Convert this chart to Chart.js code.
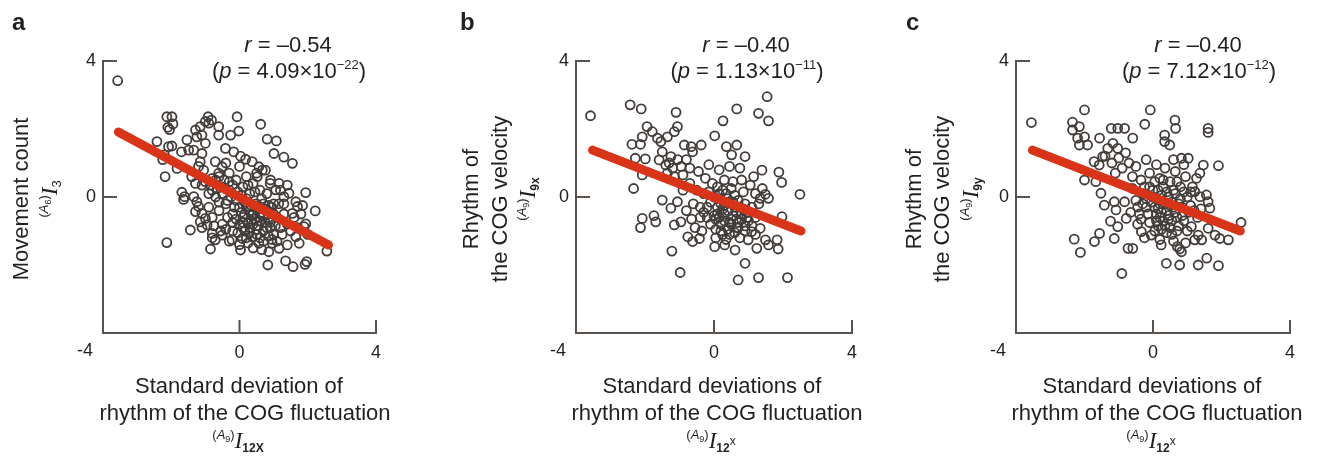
<!DOCTYPE html>
<html>
<head>
<title>COG rhythm correlations</title>
<script src="https://cdn.jsdelivr.net/npm/chart.js"></script>
<style>
  body { margin: 0; background: #fff; width: 1325px; height: 456px; overflow: hidden; position: relative; }
  canvas { position: absolute; top: 0; }
</style>
</head>
<body>
<canvas id="chartA" width="440" height="456" style="left:0px"></canvas>
<canvas id="chartB" width="440" height="456" style="left:440px"></canvas>
<canvas id="chartC" width="445" height="456" style="left:880px"></canvas>
<script>
// tick values shared by both axes of all three panels
const axisTicks = [-4, 0, 4];
const panelLetters = ['a', 'b', 'c'];
const rValues = ['\u20130.54', '\u20130.40', '\u20130.40'];
const pMantissa = ['4.09', '1.13', '7.12'];
const pExponent = ['\u221222', '\u221211', '\u221212'];

// regression line end points
const fitA = [[-3.55, 1.91], [2.61, -1.41]];
const fitB = [[-3.52, 1.38], [2.52, -1.00]];
const fitC = [[-3.52, 1.38], [2.55, -1.00]];

// panel a: I12X vs I3
const pointsA = [
  [-3.57,3.42],[-2.13,2.36],[-1.98,2.36],[-2.1,2.05],[-2.05,1.98],[-1.95,2.15],
  [-2.42,1.63],[-2.08,1.48],[-1.98,1.5],[-2.2,1.24],[-2.25,1.1],[-2.18,0.6],[-1.83,0.84],[-1.7,1.33],
  [-1.54,1.68],[-1.49,1.38],[-1.34,1.38],[-1.29,1.97],[-1.15,2.07],[-1.25,1.77],[-1.1,1.82],
  [-1.0,2.22],[-0.92,2.36],[-0.82,2.26],[-0.9,2.17],[-0.61,2.07],[-0.61,1.82],[-0.26,1.82],[-0.02,1.94],
  [-0.07,2.36],[0.62,2.14],[0.81,1.7],[1.08,1.65],
  [-0.41,1.43],[-0.17,1.33],[0.03,1.2],[0.18,1.11],[0.37,1.04],[0.57,0.89],[0.67,0.79],
  [1.01,1.28],[1.3,1.17],[1.55,0.99],
  [-1.0,1.58],[-1.1,1.28],[-1.15,1.04],[-1.05,0.79],[-0.71,1.04],[-0.51,0.89],[-0.61,0.7],[-0.8,0.55],
  [-1.29,0.4],[-1.1,0.35],[-1.69,0.14],[-1.61,0.01],[-1.64,-0.07],
  [-1.34,0.01],[-1.25,-0.14],[-1.2,-0.28],[-1.29,-0.43],[-1.1,-0.48],[-1.0,-0.63],[-1.15,-0.73],[-0.95,-0.82],
  [-1.44,-0.97],[-0.8,-1.07],[-0.51,-1.12],[-0.71,-1.26],[-2.13,-1.34],[-0.85,-1.53],[0.03,-1.56],
  [-0.22,-1.26],[0.08,-1.22],[0.37,-1.17],[0.57,-1.36],[0.86,-1.61],[0.83,-2.0],[0.96,-1.36],[1.16,-1.51],[1.4,-1.41],
  [1.35,-1.88],[1.57,-2.05],[1.92,-1.98],[1.97,-1.9],[1.65,-1.17],[1.75,-1.36],[2.56,-1.59],[2.22,-0.41],
  [1.94,-0.79],[1.89,-0.87],[1.94,0.13],
  [1.65,-0.14],[1.7,-0.28],[1.55,-0.48],[1.4,0.35],[1.45,0.11],[1.3,0.01],[1.16,0.4],[1.06,0.21],[0.91,0.5],
  [0.76,0.79],[0.52,0.6],
  [0.2,-0.3],[0.4,-0.5],[0.1,-0.6],[0.5,-0.2],[0.3,0.1],[-0.1,-0.1],[-0.3,0.2],[-0.5,0.3],[0.6,-0.7],[0.8,-0.4],
  [0.9,-0.9],[0.7,-1.0],[0.3,-0.9],[0.0,-0.8],[-0.2,-0.5],[-0.4,-0.2],[-0.6,-0.4],[-0.7,0.0],[-0.9,0.1],[0.1,0.3],
  [0.4,0.4],[0.6,0.2],[0.2,0.6],[-0.1,0.5],[-0.3,0.7],[0.0,0.9],[1.0,-0.2],[1.1,-0.6],[1.2,-0.9],[1.0,-1.1],
  [0.5,-1.1],[0.2,-1.2],[-0.2,-1.0],[-0.5,-0.8],[-0.8,-0.6],[0.8,0.1],[0.9,0.4],[0.5,0.7],[-0.4,1.0],[-0.6,0.6],
  [0.3,-0.4],[0.45,-0.65],[0.25,-0.75],[0.65,-0.45],[0.15,-0.15],[0.35,-0.25],[0.55,-0.85],[0.75,-0.75],[0.05,-0.45],
  [-0.15,-0.3],[-0.25,0.0],[0.7,-0.2],[1.3,-0.5],[1.4,-0.8],[1.5,-1.0],[1.2,0.2],[1.3,-0.2],[-1.2,0.9],[-1.4,0.6],
  [-0.9,-0.3],[-1.1,-0.9],[-0.8,-1.2],[-0.3,-1.3],[0.0,-1.4],[0.4,-1.5],[0.7,-1.3],[1.1,-1.3],[1.6,-0.6],[1.8,-0.5],
  [1.7,-0.9],[2.0,-1.1],[1.85,-0.25],[-0.45,0.5],[-0.65,0.25],[-0.85,0.35],[-0.35,-0.6],[-0.55,-1.0],[0.15,-1.0],
  [0.35,-0.7],[0.6,-0.5],[0.85,-0.6],[0.95,-0.3],[0.45,0.15],[-0.05,0.15],[-0.2,0.35],[0.25,0.35],[0.85,-1.15],
  [1.25,-1.1],[0.65,-1.55],[-0.1,-0.65],[-0.75,-0.85],
  [0.1,-0.9],[0.3,-1.05],[0.5,-0.95],[0.7,-0.55],[0.9,-0.75],[1.05,-0.85],[0.15,-0.5],[0.35,-0.55],[0.55,-0.35],
  [0.75,-0.35],[0.2,-0.05],[0.0,-0.3],[-0.2,-0.75],[-0.4,-0.95],[-0.6,-0.15],[-0.3,0.45],[-0.5,0.1],[-0.8,0.2],
  [-1.0,0.45],[-0.7,0.5],[0.6,-1.2],[0.8,-0.9],[1.0,-0.5],[1.15,-0.2],[0.45,-0.3],[0.65,-0.05],[0.05,0.05],
  [-0.05,-1.05],[0.25,-1.35],[0.95,-1.25],[-0.35,-0.1],[0.1,-0.75],[0.4,-0.8],[0.6,-0.6],[0.85,-0.25]
];

// panel b: I12x vs I9x
const pointsB = [
  [-3.58,2.39],[-2.43,2.71],[-2.11,2.59],[-1.1,2.49],[1.54,2.95],[0.66,2.59],[1.29,2.46],[1.58,2.24],[0.26,2.24],[0.02,1.8],
  [-1.94,2.07],[-1.79,1.92],[-2.08,1.77],[-1.06,2.07],[-1.15,1.92],[-1.35,1.77],[-1.54,1.63],[-1.64,1.73],
  [-2.38,1.55],[-2.13,1.55],[-0.86,1.53],[-0.66,1.48],[-0.37,1.53],[-0.62,1.33],
  [0.36,1.48],[0.66,1.53],[0.51,1.24],[0.9,1.19],
  [-2.28,1.14],[-1.99,1.12],[-2.08,0.65],[-2.33,0.25],
  [-1.5,1.33],[-1.25,1.19],[-1.4,0.94],[-1.59,1.09],
  [1.39,0.79],[1.88,0.73],[1.96,0.43],[2.49,0.08],[1.49,0.08],[1.58,-0.04],[1.34,-0.04],[1.97,-0.58],
  [-1.74,-0.55],[-2.08,-0.63],[-2.13,-0.9],[-1.69,-0.73],
  [-1.5,-0.09],[-1.25,-0.33],[-1.06,-0.14],[-1.15,-0.82],[-0.96,-0.73],
  [-0.76,-1.17],[-0.62,-1.31],[-0.42,-1.22],[-1.22,-1.59],[-0.98,-2.22],
  [0.02,-1.46],[0.31,-1.41],[0.61,-1.56],[0.9,-1.95],[0.7,-2.44],[1.29,-2.37],[2.13,-2.37],
  [1.24,-1.51],[1.49,-1.26],[1.58,-1.41],[1.83,-1.26],[1.86,-1.53],[1.09,-1.02],[1.34,-0.92],[0.99,-1.26],
  [-1.3,1.0],[-1.2,0.85],[-1.05,1.1],[-0.95,0.9],[-1.35,0.7],[-1.15,0.6],[-0.9,0.65],[-0.8,1.1],[-0.7,0.85],
  [0.0,0.0],[0.2,-0.2],[0.4,-0.4],[0.6,-0.3],[0.8,-0.5],[1.0,-0.7],[0.1,-0.5],[0.3,-0.7],[0.5,-0.8],[0.7,-0.9],
  [0.9,-0.2],[-0.2,-0.3],[-0.4,-0.6],[-0.1,-0.8],[0.2,-1.0],[0.45,-1.1],[0.75,-1.2],[-0.3,0.1],[-0.5,0.2],[0.1,0.3],
  [0.35,0.1],[0.6,0.05],[0.85,0.15],[1.1,-0.3],[1.2,-0.6],[-0.6,-0.2],[-0.8,-0.4],[-0.55,-0.9],[0.05,-1.2],[0.55,-0.55],
  [0.25,-0.35],[0.15,0.1],[-0.05,0.4],[0.3,0.5],[0.55,0.45],[0.8,0.5],[1.05,0.35],[-0.25,0.55],[-0.45,0.75],[-0.15,0.95],
  [0.15,0.8],[0.45,0.9],[0.75,0.85],[1.15,0.6],[-0.35,-1.0],[0.9,-1.0],[1.2,-1.1],[0.35,-1.25],[-0.7,0.4],[-0.9,0.2],
  [0.65,-0.65],[0.95,-0.45],[0.05,-0.65],[-0.3,-0.45],[0.4,-0.05],[0.7,-0.1],[1.3,-0.2],[1.4,0.25],[1.2,0.1],[-0.65,-0.65],
  [0.1,-0.3],[0.3,-0.5],[0.5,-0.65],[0.7,-0.75],[0.9,-0.85],[0.2,-0.8],[0.4,-0.95],[0.6,-1.05],[0.8,-0.65],[1.0,-0.45],
  [0.0,-0.55],[-0.2,-0.6],[0.35,-0.15],[0.55,-0.15],[0.75,-0.3],[0.15,-0.6],[0.45,-0.75],[0.65,-0.45],[0.85,-0.35],
  [-0.1,-0.15],[0.05,-0.95],[0.25,-1.1],[0.65,-0.9],[0.95,-0.6],[1.1,-0.85],[-0.15,0.15],[0.25,0.2],[0.5,0.25],
  [-0.4,-0.3],[0.3,-0.25]
];

// panel c: I12x vs I9y
const pointsC = [
  [-3.55,2.19],[-2.0,2.56],[-0.08,2.56],[0.64,2.26],[0.66,2.02],[-0.24,2.14],[1.61,2.02],[1.61,1.9],
  [-2.35,2.2],[-2.15,2.07],[-2.35,1.97],[-2.2,1.73],[-2.0,1.77],[-1.91,1.53],[-2.15,1.53],
  [-1.56,1.73],[-1.22,2.02],[-1.03,2.02],[-0.83,2.02],[-0.59,1.73],[-1.17,1.58],[-1.03,1.43],[-1.32,1.43],
  [0.34,1.82],[0.49,1.53],[0.34,1.63],[0.83,1.14],[1.03,1.14],[1.91,0.92],[1.47,0.94],[1.37,0.7],[1.27,0.55],
  [-2.0,0.5],[-1.67,0.45],[-1.52,0.11],[-1.42,-0.24],[-1.47,1.19],[-1.72,1.04],[-1.57,0.94],
  [-1.13,-0.14],[-0.83,-0.14],[-1.08,-0.38],[-1.24,-0.71],[-1.03,-0.87],[-1.13,-1.22],
  [-1.56,-1.07],[-1.71,-1.31],[-2.3,-1.24],[-2.12,-1.63],[-0.78,-0.63],[-0.73,-1.51],[-0.59,-1.51],[-0.91,-2.25],
  [-0.34,-1.02],[-0.05,-1.12],[0.24,-1.41],[0.78,-1.53],[0.83,-1.61],[0.71,-1.46],
  [0.39,-1.95],[0.78,-2.0],[1.32,-2.0],[1.91,-2.02],[1.57,-1.8],
  [1.22,-1.26],[1.42,-1.26],[1.95,-1.22],[2.2,-1.26],[1.81,-1.12],[2.57,-0.75],
  [1.56,0.06],[1.61,-0.14],[1.66,-0.33],[1.22,0.16],[1.37,0.01],[1.61,-0.92],[1.32,-1.12],[1.12,-0.87],
  [-1.4,1.2],[-1.2,1.0],[-1.0,1.15],[-0.8,1.3],[-0.7,1.0],[-0.9,0.85],[-1.1,0.7],[-0.6,0.6],[-0.5,0.9],
  [0.0,0.0],[0.2,-0.2],[0.4,-0.4],[-0.2,-0.3],[0.1,-0.5],[0.3,-0.7],[0.5,-0.9],[-0.3,0.1],[-0.1,0.3],[0.15,0.2],
  [0.45,0.0],[0.6,-0.3],[0.7,-0.6],[-0.4,-0.5],[-0.1,-0.75],[0.25,-0.95],[0.55,-1.1],[0.9,-0.7],[0.85,-0.3],[1.0,0.0],
  [0.8,0.3],[0.5,0.45],[0.2,0.55],[-0.1,0.7],[-0.35,0.5],[0.35,0.85],[0.65,0.75],[0.95,0.6],[1.15,0.3],[1.2,-0.4],
  [1.0,-1.0],[0.05,-1.0],[-0.25,-1.2],[0.35,-0.2],[0.65,0.1],[-0.5,-0.1],[-0.6,0.25],[0.1,0.95],[-0.2,1.1],[0.6,1.1],
  [0.9,0.95],[0.75,-0.85],[0.45,-0.65],[0.15,-0.35],[-0.05,-0.15],[0.3,0.3],[0.55,-0.15],[0.8,-0.05],[1.3,-0.6],
  [1.4,-0.35],[-0.45,-0.8],[-0.65,-0.45],[0.95,-1.35],[0.6,-1.3],[0.2,-1.25],[1.1,-0.25],
  [0.05,-0.3],[0.25,-0.45],[0.45,-0.55],[0.65,-0.45],[-0.15,-0.5],[0.1,-0.7],[0.35,-0.85],[0.55,-0.7],[-0.3,-0.2],
  [0.0,0.2],[0.25,0.05],[0.5,-0.25],[0.75,-0.2],[0.4,0.15],[-0.2,-0.05],[0.15,-0.85],[0.4,-1.05],[0.7,-1.0],
  [0.85,-0.55],[1.05,-0.45],[-0.35,-0.65],[0.2,-0.6],[0.6,0.2],[0.3,0.5],[-0.25,0.3],[1.1,0.15],[0.9,0.15],
  [0.7,0.45],[0.05,0.45],[-0.45,-0.3]
];

const SANS = '"Liberation Sans", Arial, sans-serif';
const SERIF = '"Liberation Serif", "Times New Roman", serif';
const INK = '#231f20';
const AXIS = '#58534f';
const DOT = '#423d3a';
const FIT = '#da3418';

// superscript "(A9)" style prefix used before the italic I
function prefix(n) {
  return [['(', '13px ' + SANS, -9], ['A', 'italic 13px ' + SANS, -9], [n, '9px ' + SANS, -6], [')', '13px ' + SANS, -9],
          ['I', 'italic 23px ' + SERIF, 0]];
}

function drawRuns(ctx, runs, cx, baseY) {
  let w = 0;
  runs.forEach(r => { ctx.font = r[1]; w += ctx.measureText(r[0]).width; });
  let x = cx - w / 2;
  ctx.textAlign = 'left';
  ctx.textBaseline = 'alphabetic';
  runs.forEach(r => {
    ctx.font = r[1];
    ctx.fillText(r[0], x, baseY + (r[2] || 0));
    x += ctx.measureText(r[0]).width;
  });
}

const panels = [
  { id: 'chartA', points: pointsA, fit: fitA, yWidth: 103, padRight: 64,
    letterX: 12, statX: 288,
    yLines: [['Movement count', 22]], yMath: [...prefix('6'), ['3', '13px ' + SANS, 4]], yMathX: 57, yMid: 199,
    xLines: [['Standard deviation of', 239], ['rhythm of the COG fluctuation', 245]],
    xMath: [...prefix('9'), ['12X', 'bold 12px ' + SANS, 4]], xMathX: 238 },
  { id: 'chartB', points: pointsB, fit: fitB, yWidth: 136, padRight: 28,
    letterX: 20, statX: 306,
    yLines: [['Rhythm of', 32], ['the COG velocity', 61]], yMath: [...prefix('9'), ['9x', 'bold 12px ' + SANS, 4]], yMathX: 95, yMid: 199,
    xLines: [['Standard deviations of', 272], ['rhythm of the COG fluctuation', 277]],
    xMath: [...prefix('9'), ['12', 'bold 12px ' + SANS, 4], ['x', '12px ' + SANS, -3]], xMathX: 271 },
  { id: 'chartC', points: pointsC, fit: fitC, yWidth: 136, padRight: 35,
    letterX: 26, statX: 318,
    yLines: [['Rhythm of', 35], ['the COG velocity', 63]], yMath: [...prefix('9'), ['9y', 'bold 12px ' + SANS, 4]], yMathX: 98, yMid: 199,
    xLines: [['Standard deviations of', 272], ['rhythm of the COG fluctuation', 277]],
    xMath: [...prefix('9'), ['12', 'bold 12px ' + SANS, 4], ['x', '12px ' + SANS, -3]], xMathX: 271 }
];

const innerTicks = {
  id: 'innerTicks',
  beforeDatasetsDraw(chart) {
    const { ctx, chartArea: ca, scales: { x, y } } = chart;
    ctx.save();
    ctx.strokeStyle = AXIS;
    ctx.lineWidth = 2;
    axisTicks.forEach(v => {
      const px = x.getPixelForValue(v);
      ctx.beginPath(); ctx.moveTo(px, ca.bottom); ctx.lineTo(px, ca.bottom - 13); ctx.stroke();
      const py = y.getPixelForValue(v);
      ctx.beginPath(); ctx.moveTo(ca.left, py); ctx.lineTo(ca.left + 14, py); ctx.stroke();
    });
    ctx.restore();
  }
};

const panelText = {
  id: 'panelText',
  afterDraw(chart, args, opts) {
    const p = opts.panel, i = opts.index;
    const { ctx, chartArea: ca } = chart;
    ctx.save();
    ctx.fillStyle = INK;

    // corner label shared by both axes
    ctx.font = '18px ' + SANS;
    ctx.textAlign = 'right';
    ctx.textBaseline = 'top';
    ctx.fillText('-4', ca.left - 10, ca.bottom + 9);

    ctx.font = 'bold 24px ' + SANS;
    ctx.textAlign = 'left';
    ctx.textBaseline = 'alphabetic';
    ctx.fillText(panelLetters[i], p.letterX, 30);

    drawRuns(ctx, [['r', 'italic 22px ' + SANS], [' = ' + rValues[i], '22px ' + SANS]], p.statX, 52);
    drawRuns(ctx, [['(', '22px ' + SANS], ['p', 'italic 22px ' + SANS], [' = ' + pMantissa[i] + '\u00d710', '22px ' + SANS],
                   [pExponent[i], '13px ' + SANS, -9], [')', '22px ' + SANS]], p.statX + 1, 78);

    // x axis title
    ctx.font = '22px ' + SANS;
    ctx.textAlign = 'center';
    ctx.fillText(p.xLines[0][0], p.xLines[0][1], 393);
    ctx.fillText(p.xLines[1][0], p.xLines[1][1], 420);
    drawRuns(ctx, p.xMath, p.xMathX, 448);

    // y axis title, rotated
    p.yLines.forEach(l => {
      ctx.save();
      ctx.translate(l[1], p.yMid);
      ctx.rotate(-Math.PI / 2);
      ctx.font = '22px ' + SANS;
      ctx.textAlign = 'center';
      ctx.textBaseline = 'middle';
      ctx.fillText(l[0], 0, 0);
      ctx.restore();
    });
    ctx.save();
    ctx.translate(p.yMathX, p.yMid);
    ctx.rotate(-Math.PI / 2);
    drawRuns(ctx, p.yMath, 0, 0);
    ctx.restore();

    ctx.restore();
  }
};

function axisOptions(isX, p) {
  return {
    type: 'linear',
    min: -4,
    max: 4,
    afterBuildTicks: s => { s.ticks = axisTicks.map(v => ({ value: v })); },
    afterFit: s => { if (isX) s.height = 123; else s.width = p.yWidth; },
    grid: { display: false, drawTicks: false },
    border: { display: true, color: AXIS, width: 2 },
    ticks: {
      color: INK,
      font: { size: 18, family: SANS },
      padding: isX ? 9 : 7,
      autoSkip: false,
      maxRotation: 0,
      callback: v => (v === -4 ? '' : String(v))
    }
  };
}

panels.forEach((p, i) => {
  new Chart(document.getElementById(p.id), {
    type: 'scatter',
    data: {
      datasets: [
        {
          data: p.fit.map(d => ({ x: d[0], y: d[1] })),
          showLine: true,
          borderColor: FIT,
          borderWidth: 9,
          borderCapStyle: 'round',
          pointRadius: 0,
          order: 0
        },
        {
          data: p.points.map(d => ({ x: d[0], y: d[1] })),
          pointRadius: 4.5,
          pointBorderWidth: 1.8,
          pointBorderColor: DOT,
          pointBackgroundColor: 'rgba(0,0,0,0)',
          order: 1
        }
      ]
    },
    options: {
      responsive: false,
      devicePixelRatio: 1,
      animation: false,
      events: [],
      layout: { padding: { left: 0, right: p.padRight, top: 61, bottom: 0 } },
      plugins: {
        legend: { display: false },
        tooltip: { enabled: false },
        panelText: { panel: p, index: i }
      },
      scales: { x: axisOptions(true, p), y: axisOptions(false, p) }
    },
    plugins: [innerTicks, panelText]
  });
});
</script>
</body>
</html>
